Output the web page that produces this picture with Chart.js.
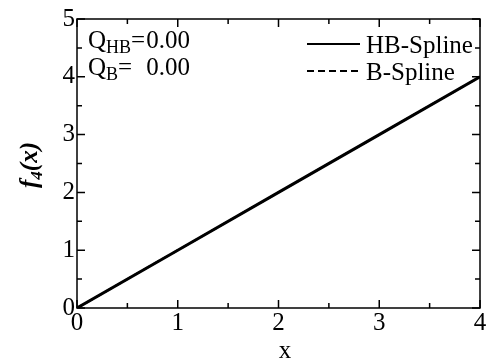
<!DOCTYPE html>
<html>
<head>
<meta charset="utf-8">
<script src="https://cdn.jsdelivr.net/npm/chart.js@4/dist/chart.umd.min.js"></script>
<style>
  html, body { margin: 0; padding: 0; background: #fff; }
  canvas { display: block; }
</style>
</head>
<body>
<canvas id="chart" width="489" height="360"></canvas>
<script>
// curve samples
const xValues = [0, 1, 2, 3, 4];
const hbSpline = [0, 1, 2, 3, 4];
const bSpline = [0, 1, 2, 3, 4];

// series names and the fit quality figures
const seriesNames = ['HB-Spline', 'B-Spline'];
const qLabels = [['Q', 'HB', '=', '0.00'], ['Q', 'B', '=', '0.00']];

const serif = '"Liberation Serif", "Times New Roman", serif';
const textSize = 25;

function toPoints(ys) {
    return xValues.map((x, i) => ({ x: x, y: ys[i] }));
}

// frame with inward ticks, axis titles, annotations and legend
const framePlugin = {
    id: 'frame',
    afterDraw(chart) {
        const ctx = chart.ctx;
        const area = chart.chartArea;
        const xs = chart.scales.x;
        const ys = chart.scales.y;

        ctx.save();
        ctx.strokeStyle = '#000';
        ctx.lineWidth = 1.5;
        ctx.strokeRect(area.left, area.top, area.right - area.left, area.bottom - area.top);

        const major = 8, minor = 5;
        ctx.beginPath();
        xs.ticks.forEach((t, i) => {
            const px = xs.getPixelForValue(t.value);
            ctx.moveTo(px, area.bottom); ctx.lineTo(px, area.bottom - major);
            ctx.moveTo(px, area.top); ctx.lineTo(px, area.top + major);
            if (i < xs.ticks.length - 1) {
                const m = xs.getPixelForValue((t.value + xs.ticks[i + 1].value) / 2);
                ctx.moveTo(m, area.bottom); ctx.lineTo(m, area.bottom - minor);
                ctx.moveTo(m, area.top); ctx.lineTo(m, area.top + minor);
            }
        });
        ys.ticks.forEach((t, i) => {
            const py = ys.getPixelForValue(t.value);
            ctx.moveTo(area.left, py); ctx.lineTo(area.left + major, py);
            ctx.moveTo(area.right, py); ctx.lineTo(area.right - major, py);
            if (i < ys.ticks.length - 1) {
                const m = ys.getPixelForValue((t.value + ys.ticks[i + 1].value) / 2);
                ctx.moveTo(area.left, m); ctx.lineTo(area.left + minor, m);
                ctx.moveTo(area.right, m); ctx.lineTo(area.right - minor, m);
            }
        });
        ctx.stroke();

        ctx.fillStyle = '#000';
        ctx.textBaseline = 'alphabetic';

        // x title
        ctx.font = textSize + 'px ' + serif;
        ctx.textAlign = 'center';
        ctx.fillText('x', 285, 358);

        // y title: f_4(x), bold italic, rotated
        ctx.save();
        ctx.translate(37, 165);
        ctx.rotate(-Math.PI / 2);
        ctx.textAlign = 'left';
        const big = 'bold italic ' + textSize + 'px ' + serif;
        const small = 'bold italic 17px ' + serif;
        ctx.font = big;
        const wf = ctx.measureText('f').width;
        const wp = ctx.measureText('(x)').width;
        ctx.font = small;
        const w4 = ctx.measureText('4').width;
        let cx = -(wf + w4 + wp) / 2;
        ctx.font = big;
        ctx.fillText('f', cx, 0);
        cx += wf;
        ctx.font = small;
        ctx.fillText('4', cx, 5);
        cx += w4;
        ctx.font = big;
        ctx.fillText('(x)', cx, 0);
        ctx.restore();

        // Q annotations, values lined up on the right
        const qBase = [48, 75];
        qLabels.forEach((parts, i) => {
            let qx = 88;
            ctx.textAlign = 'left';
            ctx.font = textSize + 'px ' + serif;
            ctx.fillText(parts[0], qx, qBase[i]);
            qx += ctx.measureText(parts[0]).width;
            ctx.font = '18px ' + serif;
            ctx.fillText(parts[1], qx, qBase[i] + 5);
            qx += ctx.measureText(parts[1]).width;
            ctx.font = textSize + 'px ' + serif;
            ctx.fillText(parts[2], qx, qBase[i]);
            ctx.textAlign = 'right';
            ctx.fillText(parts[3], 190, qBase[i]);
        });

        // legend
        ctx.textAlign = 'left';
        const rows = [44, 71];
        chart.data.datasets.forEach((ds, i) => {
            ctx.beginPath();
            ctx.lineWidth = 2;
            ctx.strokeStyle = ds.borderColor;
            ctx.setLineDash(ds.borderDash || []);
            ctx.moveTo(307, rows[i]);
            ctx.lineTo(360, rows[i]);
            ctx.stroke();
            ctx.setLineDash([]);
            ctx.font = textSize + 'px ' + serif;
            ctx.fillText(ds.label, 366, rows[i] + 9);
        });
        ctx.restore();
    }
};

new Chart(document.getElementById('chart'), {
    type: 'line',
    data: {
        datasets: [
            {
                label: seriesNames[0],
                data: toPoints(hbSpline),
                borderColor: '#000',
                borderWidth: 3,
                pointRadius: 0,
                fill: false
            },
            {
                label: seriesNames[1],
                data: toPoints(bSpline),
                borderColor: '#000',
                borderWidth: 2,
                borderDash: [7, 4],
                pointRadius: 0,
                fill: false
            }
        ]
    },
    options: {
        responsive: false,
        animation: false,
        devicePixelRatio: 1,
        layout: {
            autoPadding: false,
            padding: { top: 19, right: 9, left: 0, bottom: 0 }
        },
        plugins: {
            legend: { display: false },
            tooltip: { enabled: false }
        },
        scales: {
            x: {
                type: 'linear',
                min: 0,
                max: 4,
                grid: { display: false, drawTicks: false },
                border: { display: false },
                ticks: {
                    stepSize: 1,
                    padding: 0,
                    color: '#000',
                    maxRotation: 0,
                    font: { family: serif, size: textSize }
                },
                afterFit(scale) { scale.height = 52; }
            },
            y: {
                type: 'linear',
                min: 0,
                max: 5,
                grid: { display: false, drawTicks: false },
                border: { display: false },
                ticks: {
                    stepSize: 1,
                    padding: 2,
                    color: '#000',
                    font: { family: serif, size: textSize }
                },
                afterFit(scale) { scale.width = 77; }
            }
        }
    },
    plugins: [framePlugin]
});
</script>
</body>
</html>
